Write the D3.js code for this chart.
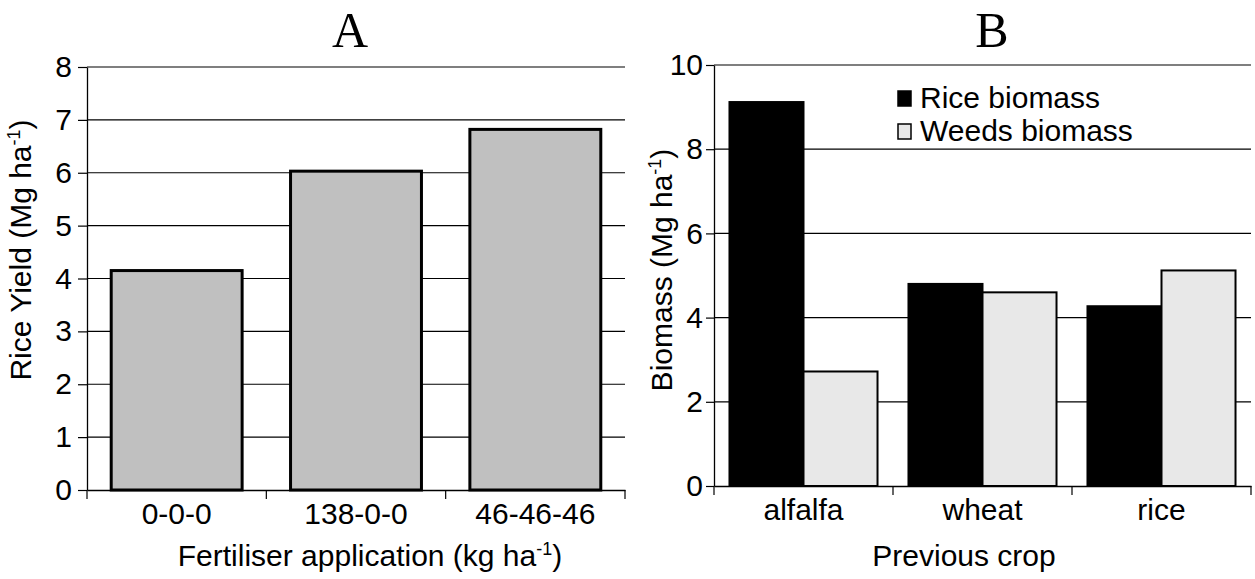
<!DOCTYPE html>
<html><head><meta charset="utf-8">
<script src="https://cdn.jsdelivr.net/npm/d3@7"></script>
<style>
html,body{margin:0;padding:0;background:#fff;}
svg{display:block;}
</style></head>
<body>
<svg id="c" width="1255" height="579"></svg>
<script>
// Panel A data
const fertCategories = ["0-0-0", "138-0-0", "46-46-46"];
const riceYield = [4.15, 6.03, 6.82];
const yieldTicks = [0,1,2,3,4,5,6,7,8];
// Panel B data
const cropCategories = ["alfalfa", "wheat", "rice"];
const seriesNames = ["Rice biomass", "Weeds biomass"];
const riceBiomass = [9.12, 4.80, 4.27];
const weedsBiomass = [2.72, 4.60, 5.12];
const biomassTicks = [0,2,4,6,8,10];

const SANS = "'Liberation Sans', Arial, sans-serif";
const SERIF = "'Liberation Serif', 'Times New Roman', serif";
const svg = d3.select("#c").attr("font-family", SANS);
const FS = 30;

function styleText(sel){ sel.attr("font-size",FS).attr("font-family",SANS).attr("fill","#000"); }

// ---------- Panel A ----------
const A = {left:87, right:625, top:67, bottom:490};
const xA = d3.scaleBand().domain(fertCategories).range([A.left, A.right]).paddingInner(0.27).paddingOuter(0.135);
const xAt = d3.scaleBand().domain(fertCategories).range([A.left, A.right]);
const yA = d3.scaleLinear().domain([0,8]).range([A.bottom, A.top]);
const gA = svg.append("g");

gA.selectAll("line.grid").data(yieldTicks.slice(1)).join("line")
  .attr("x1", A.left).attr("x2", A.right)
  .attr("y1", d=>yA(d)).attr("y2", d=>yA(d))
  .attr("stroke","#000").attr("stroke-width",1.2);

const axYA = gA.append("g").attr("transform",`translate(${A.left},0)`)
  .call(d3.axisLeft(yA).tickValues(yieldTicks).tickSize(9).tickSizeOuter(0).tickPadding(6));
axYA.select(".domain").attr("stroke","#000").attr("stroke-width",1.3);
axYA.selectAll(".tick line").attr("stroke","#000").attr("stroke-width",1.2);
styleText(axYA.selectAll("text"));

gA.selectAll("rect.bar").data(riceYield).join("rect")
  .attr("x",(d,i)=>xA(fertCategories[i]))
  .attr("width",xA.bandwidth())
  .attr("y",d=>yA(d)).attr("height",d=>yA(0)-yA(d))
  .attr("fill","#c0c0c0").attr("stroke","#000").attr("stroke-width",3);

const axXA = gA.append("g").attr("transform",`translate(0,${A.bottom})`)
  .call(d3.axisBottom(xAt).tickSize(0).tickPadding(13));
axXA.select(".domain").attr("stroke","#000").attr("stroke-width",1.3);
styleText(axXA.selectAll("text"));
gA.selectAll("line.xt").data(fertCategories.concat(["end"])).join("line")
  .attr("x1",(d,i)=> i<3 ? xAt(d) : A.right).attr("x2",(d,i)=> i<3 ? xAt(d) : A.right)
  .attr("y1",A.bottom).attr("y2",A.bottom+9).attr("stroke","#000").attr("stroke-width",1.2);

svg.append("text").attr("x",350).attr("y",47).attr("text-anchor","middle")
  .attr("font-family",SERIF).attr("font-size",50).attr("fill","#000").text("A");
const tA = svg.append("text").attr("x",370).attr("y",566).attr("text-anchor","middle").attr("font-size",FS);
tA.append("tspan").text("Fertiliser application (kg ha");
tA.append("tspan").attr("font-size",18).attr("dy",-11).text("-1");
tA.append("tspan").attr("dy",11).text(")");
const yAt = svg.append("text").attr("transform","translate(31,250) rotate(-90)").attr("text-anchor","middle").attr("font-size",FS);
yAt.append("tspan").text("Rice Yield (Mg ha");
yAt.append("tspan").attr("font-size",18).attr("dy",-11).text("-1");
yAt.append("tspan").attr("dy",11).text(")");

// ---------- Panel B ----------
const B = {left:714, right:1251, top:65, bottom:486};
const xB = d3.scaleBand().domain(cropCategories).range([B.left, B.right]).paddingInner(0.173).paddingOuter(0.0865);
const xBt = d3.scaleBand().domain(cropCategories).range([B.left, B.right]);
const xB1 = d3.scaleBand().domain(seriesNames).range([0, xB.bandwidth()]);
const yB = d3.scaleLinear().domain([0,10]).range([B.bottom, B.top]);
const colors = d3.scaleOrdinal().domain(seriesNames).range(["#000000","#e8e8e8"]);
const gB = svg.append("g");

gB.selectAll("line.grid").data(biomassTicks.slice(1)).join("line")
  .attr("x1", B.left).attr("x2", B.right)
  .attr("y1", d=>yB(d)).attr("y2", d=>yB(d))
  .attr("stroke","#000").attr("stroke-width",1.2);

const axYB = gB.append("g").attr("transform",`translate(${B.left},0)`)
  .call(d3.axisLeft(yB).tickValues(biomassTicks).tickSize(8).tickSizeOuter(0).tickPadding(3));
axYB.select(".domain").attr("stroke","#000").attr("stroke-width",1.3);
axYB.selectAll(".tick line").attr("stroke","#000").attr("stroke-width",1.2);
styleText(axYB.selectAll("text"));

const rows = cropCategories.map((c,i)=>({crop:c, vals:[riceBiomass[i], weedsBiomass[i]]}));
const grp = gB.selectAll("g.grp").data(rows).join("g").attr("transform",d=>`translate(${xB(d.crop)},0)`);
grp.selectAll("rect").data(d=>d.vals.map((v,j)=>({s:seriesNames[j], v}))).join("rect")
  .attr("x",d=>xB1(d.s)).attr("width",xB1.bandwidth())
  .attr("y",d=>yB(d.v)).attr("height",d=>yB(0)-yB(d.v))
  .attr("fill",d=>colors(d.s)).attr("stroke","#000").attr("stroke-width",2);

const axXB = gB.append("g").attr("transform",`translate(0,${B.bottom})`)
  .call(d3.axisBottom(xBt).tickSize(0).tickPadding(13));
axXB.select(".domain").attr("stroke","#000").attr("stroke-width",1.3);
styleText(axXB.selectAll("text"));
gB.selectAll("line.xt").data(cropCategories.concat(["end"])).join("line")
  .attr("x1",(d,i)=> i<3 ? xBt(d) : B.right).attr("x2",(d,i)=> i<3 ? xBt(d) : B.right)
  .attr("y1",B.bottom).attr("y2",B.bottom+9).attr("stroke","#000").attr("stroke-width",1.2);

svg.append("text").attr("x",992).attr("y",47).attr("text-anchor","middle")
  .attr("font-family",SERIF).attr("font-size",50).attr("fill","#000").text("B");
svg.append("text").attr("x",964).attr("y",566).attr("text-anchor","middle").attr("font-size",FS).text("Previous crop");
const yBt = svg.append("text").attr("transform","translate(672,270) rotate(-90)").attr("text-anchor","middle").attr("font-size",FS);
yBt.append("tspan").text("Biomass (Mg ha");
yBt.append("tspan").attr("font-size",18).attr("dy",-11).text("-1");
yBt.append("tspan").attr("dy",11).text(")");

// legend
const leg = svg.append("g").attr("transform","translate(898,88)");
const li = leg.selectAll("g").data(seriesNames).join("g").attr("transform",(d,i)=>`translate(0,${i*33})`);
li.append("rect").attr("x",0).attr("y",3).attr("width",13).attr("height",15)
  .attr("fill",d=>colors(d)).attr("stroke","#000").attr("stroke-width",1.5);
li.append("text").attr("x",22).attr("y",20).attr("font-size",FS).text(d=>d);
</script>
</body></html>
